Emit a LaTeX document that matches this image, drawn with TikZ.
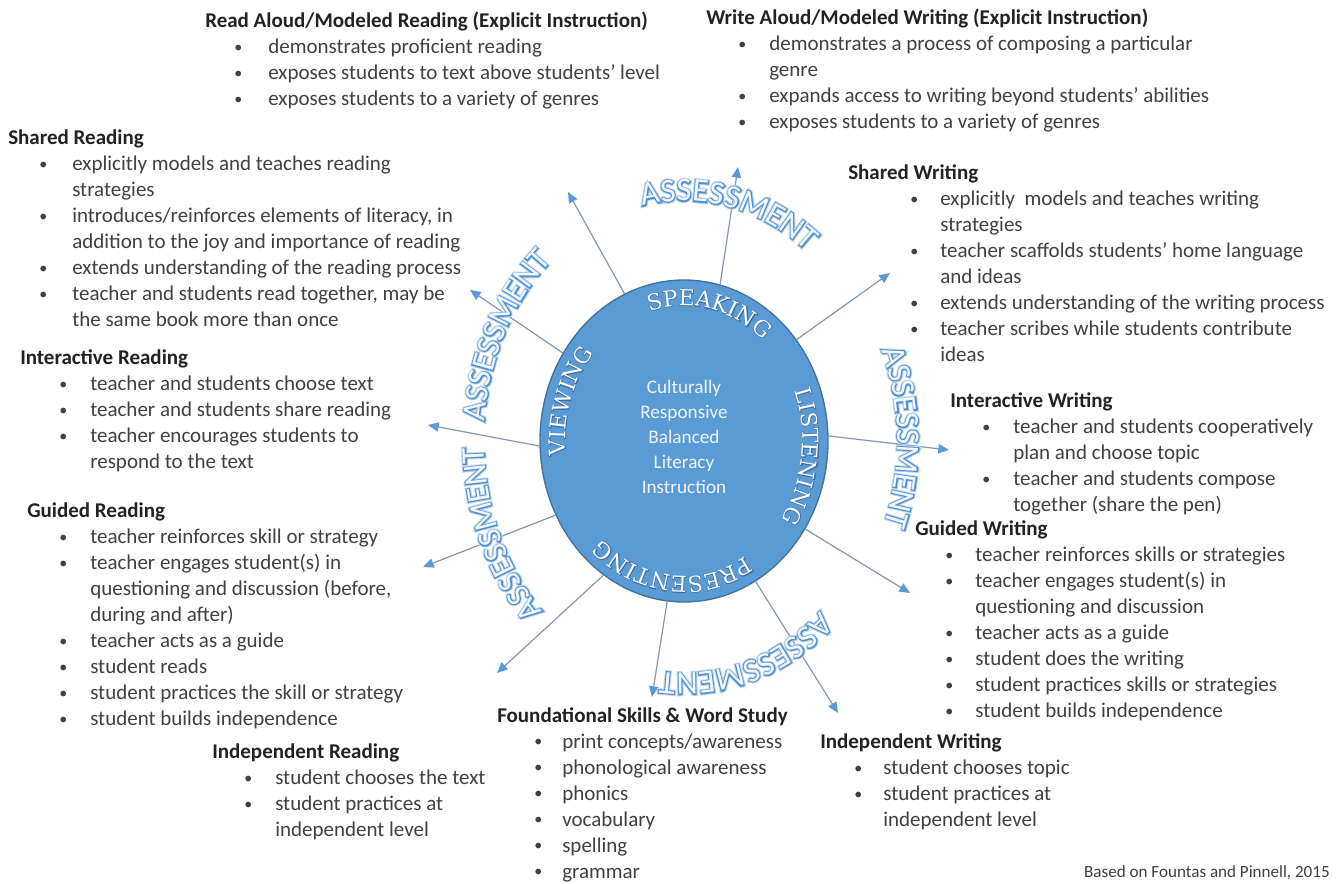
\documentclass[tikz,border=0pt]{standalone}
\usepackage{fontspec}
\setmainfont{Carlito}
\newfontfamily\arcfont{DejaVu Serif}
\newfontfamily\arcfontB[FakeBold=5]{DejaVu Serif}
\newfontfamily\asfont{Carlito}
\newfontfamily\asfontB[FakeBold=6]{Carlito}
\newfontfamily\asfontG[FakeBold=12]{Carlito}
\usetikzlibrary{shapes.geometric,arrows.meta,decorations.text,calc}
\definecolor{ellfill}{HTML}{5B9BD5}
\definecolor{elledge}{HTML}{41719C}
\definecolor{arrline}{HTML}{8497B0}
\definecolor{arrtip}{HTML}{5B9BD5}
\definecolor{bodytext}{HTML}{404040}
\definecolor{headtext}{HTML}{222222}
\definecolor{asline}{HTML}{4F8FD0}
\definecolor{asfill}{HTML}{F2F7FD}
\definecolor{asglow}{HTML}{BCD5EF}
\definecolor{lbledge}{HTML}{3E6FA3}
\definecolor{ctrtext}{HTML}{F0F4FA}
\newcommand\setind[2]{\def\bind{#1}\def\tind{#2}}
\newcommand\hd[1]{\rule{0pt}{12pt}{\bfseries\color{headtext}#1}}
\newcommand\bitem[1]{\hspace*{\dimexpr\bind pt*3/4\relax}\makebox[\dimexpr\tind pt*3/4\relax][l]{\raisebox{1pt}{\fontsize{12pt}{12pt}\selectfont\textbullet}}#1}
\newcommand\cont[1]{\hspace*{\dimexpr(\bind pt+\tind pt)*3/4\relax}#1}
\newcommand\lblR{\arcfont\fontsize{16.5pt}{18pt}\selectfont}
\newcommand\lblB{\arcfontB\fontsize{16.5pt}{18pt}\selectfont}
\newcommand\asR{\asfont\fontsize{24.75pt}{28pt}\selectfont}
\newcommand\asB{\asfontB\fontsize{24.75pt}{28pt}\selectfont}
\newcommand\asG{\asfontG\fontsize{24.75pt}{28pt}\selectfont}
% angle, halfspan, rx, ry, font, color, text
\newcommand\curvetext[7]{%
\path[decorate,decoration={text along path,text align=center,text color=#6,text={|#5|#7}}]
 ($(C)+({#1+#2}:#3 and #4)$) arc[start angle={#1+#2},end angle={#1-#2},x radius=#3,y radius=#4];}
\newcommand\inlabel[2]{%
\curvetext{#1}{45}{89pt}{101.5pt}{\lblB}{lbledge}{#2}%
\curvetext{#1}{45}{89pt}{101.5pt}{\lblR}{white}{#2}}
% angle, rx, ry
\newcommand\aslabel[3]{%
\curvetext{#1}{50}{#2}{#3}{\asG}{asglow}{ASSESSMENT}%
\curvetext{#1}{50}{#2}{#3}{\asB}{asline}{ASSESSMENT}%
\curvetext{#1}{50}{#2}{#3}{\asR}{asfill}{ASSESSMENT}}
\tikzset{
  blk/.style={anchor=north west,align=left,inner sep=0pt,text=bodytext,
    font=\fontsize{15.75pt}{19.5pt}\selectfont},
  arr/.style={draw=arrline,line width=0.9pt,-{Triangle[length=8pt,width=7pt,color=arrtip]}}
}
\begin{document}
\begin{tikzpicture}[x=0.75pt,y=0.75pt]
\fill[white] (0,0) rectangle (1343,-884);
\useasboundingbox (0,0) rectangle (1343,-884);
\coordinate (C) at (684,-441);
% arrow ends
\coordinate (t1) at (568,-192);
\coordinate (t2) at (738,-167);
\coordinate (t3) at (890,-273);
\coordinate (t4) at (949,-450);
\coordinate (t5) at (910,-593);
\coordinate (t6) at (838,-713);
\coordinate (t7) at (652,-697);
\coordinate (t8) at (497,-673);
\coordinate (t9) at (423,-567);
\coordinate (t10) at (428,-425);
\coordinate (t11) at (470,-290);
\node[ellipse,draw=elledge,fill=ellfill,line width=1pt,minimum width=216pt,minimum height=241.5pt,inner sep=0pt] (core) at (C) {};
\draw[arr] (core.112) -- (t1);
\draw[arr] (core.77) -- (t2);
\draw[arr] (core.42) -- (t3);
\draw[arr] (core.2) -- (t4);
\draw[arr] (core.-36) -- (t5);
\draw[arr] (core.-63) -- (t6);
\draw[arr] (core.-96) -- (t7);
\draw[arr] (core.-121) -- (t8);
\draw[arr] (core.210) -- (t9);
\draw[arr] (core.182) -- (t10);
\draw[arr] (core.144) -- (t11);
\node[align=center,text=ctrtext,inner sep=0pt,font=\fontsize{14.4pt}{18.75pt}\selectfont] (ctr) at (684,-437)
 {Culturally\\Responsive\\Balanced\\Literacy\\Instruction};
% inner labels
\inlabel{78}{SPEAKING}
\inlabel{-7}{LISTENING}
\inlabel{-96}{PRESENTING}
\inlabel{162}{VIEWING}
% assessment labels
\aslabel{78}{150pt}{180pt}
\aslabel{1}{160pt}{180pt}
\aslabel{151.5}{150pt}{180pt}
\aslabel{205}{150pt}{180pt}
\aslabel{-73}{150pt}{174pt}
% text blocks
\begin{scope}[yshift=-1.5pt]
\setind{29}{34}
\node[blk] (ra) at (205,-9.5) {\hd{Read Aloud/Modeled Reading (Explicit Instruction)}\\
\bitem{demonstrates proficient reading}\\
\bitem{exposes students to text above students’ level}\\
\bitem{exposes students to a variety of genres}};
\setind{32}{31}
\node[blk] (wa) at (706,-6.5) {\hd{Write Aloud/Modeled Writing (Explicit Instruction)}\\
\bitem{demonstrates a process of composing a particular}\\
\cont{genre}\\
\bitem{expands access to writing beyond students’ abilities}\\
\bitem{exposes students to a variety of genres}};
\setind{31}{33}
\node[blk] (sr) at (8,-126.5) {\hd{Shared Reading}\\
\bitem{explicitly models and teaches reading}\\
\cont{strategies}\\
\bitem{introduces/reinforces elements of literacy, in}\\
\cont{addition to the joy and importance of reading}\\
\bitem{extends understanding of the reading process}\\
\bitem{teacher and students read together, may be}\\
\cont{the same book more than once}};
\setind{62}{30}
\node[blk] (sw) at (848,-161.5) {\hd{Shared Writing}\\
\bitem{explicitly\ \ models and teaches writing}\\
\cont{strategies}\\
\bitem{teacher scaffolds students’ home language}\\
\cont{and ideas}\\
\bitem{extends understanding of the writing process}\\
\bitem{teacher scribes while students contribute}\\
\cont{ideas}};
\setind{39}{31}
\node[blk] (ir) at (20,-346.5) {\hd{Interactive Reading}\\
\bitem{teacher and students choose text}\\
\bitem{teacher and students share reading}\\
\bitem{teacher encourages students to}\\
\cont{respond to the text}};
\setind{32}{31}
\node[blk] (iw) at (950,-389.5) {\hd{Interactive Writing}\\
\bitem{teacher and students cooperatively}\\
\cont{plan and choose topic}\\
\bitem{teacher and students compose}\\
\cont{together (share the pen)}};
\setind{32}{31}
\node[blk] (gr) at (27,-499.5) {\hd{Guided Reading}\\
\bitem{teacher reinforces skill or strategy}\\
\bitem{teacher engages student(s) in}\\
\cont{questioning and discussion (before,}\\
\cont{during and after)}\\
\bitem{teacher acts as a guide}\\
\bitem{student reads}\\
\bitem{student practices the skill or strategy}\\
\bitem{student builds independence}};
\setind{30}{30}
\node[blk] (gw) at (915,-517.5) {\hd{Guided Writing}\\
\bitem{teacher reinforces skills or strategies}\\
\bitem{teacher engages student(s) in}\\
\cont{questioning and discussion}\\
\bitem{teacher acts as a guide}\\
\bitem{student does the writing}\\
\bitem{student practices skills or strategies}\\
\bitem{student builds independence}};
\setind{32}{31}
\node[blk] (inr) at (212,-740.5) {\hd{Independent Reading}\\
\bitem{student chooses the text}\\
\bitem{student practices at}\\
\cont{independent level}};
\setind{37}{28}
\node[blk] (fs) at (497,-704) {\hd{Foundational Skills \& Word Study}\\
\bitem{print concepts/awareness}\\
\bitem{phonological awareness}\\
\bitem{phonics}\\
\bitem{vocabulary}\\
\bitem{spelling}\\
\bitem{grammar}};
\setind{34}{29}
\node[blk] (inw) at (820,-730.5) {\hd{Independent Writing}\\
\bitem{student chooses topic}\\
\bitem{student practices at}\\
\cont{independent level}};
\end{scope}
\node[anchor=base east,inner sep=0pt,text=bodytext,font=\fontsize{12.8pt}{14pt}\selectfont] (src) at (1330,-877) {Based on Fountas and Pinnell, 2015};
\end{tikzpicture}
\end{document}
